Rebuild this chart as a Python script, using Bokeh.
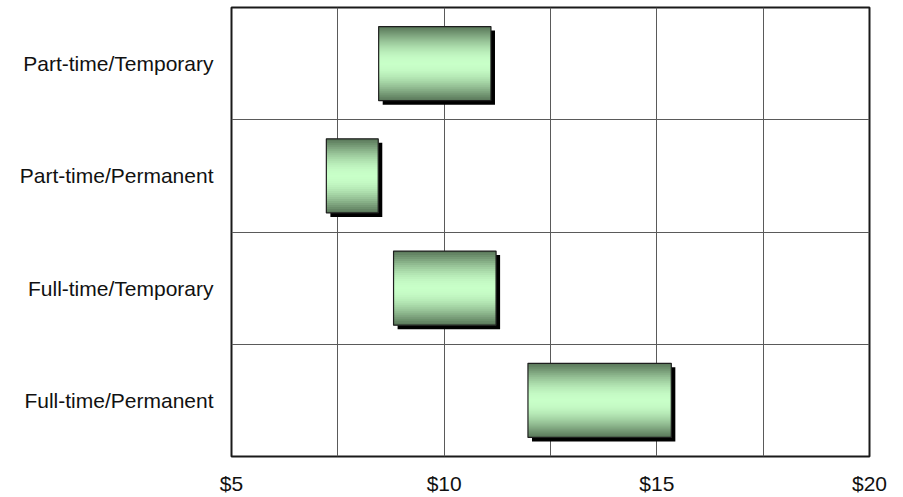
import numpy as np
from bokeh.plotting import figure
from bokeh.models import FixedTicker, ColumnDataSource
from bokeh.embed import file_html
from bokeh.resources import INLINE

# Hourly wage ranges by employment type (low / high end of each range)
categories = ["Full-time/Permanent", "Full-time/Temporary",
              "Part-time/Permanent", "Part-time/Temporary"]
wage_low = [11.97, 8.81, 7.23, 8.46]
wage_high = [15.34, 11.22, 8.45, 11.10]
x_ticks = [5, 10, 15, 20]
x_tick_labels = ["$5", "$10", "$15", "$20"]

BAR_H = 0.66          # bar thickness, in row units
N_STRIPES = 37        # slices used to shade each bar top-to-bottom
DARK = np.array([90, 120, 90])
LIGHT = np.array([200, 255, 200])

p = figure(width=903, height=497, output_backend="svg", toolbar_location=None,
           x_range=(5, 20), y_range=(0, 4),
           min_border_left=231, min_border_right=34,
           min_border_top=7, min_border_bottom=0)
p.background_fill_color = "white"
p.border_fill_color = "white"
p.outline_line_color = "#1a1a1a"
p.outline_line_width = 2

# grid: vertical lines every $2.50, horizontal lines between rows
p.xgrid.ticker = FixedTicker(ticks=[5, 7.5, 10, 12.5, 15, 17.5, 20])
p.ygrid.ticker = FixedTicker(ticks=[1, 2, 3])
for g in (p.xgrid, p.ygrid):
    g.grid_line_color = "#5a5a5a"
    g.grid_line_width = 1

# axes
p.xaxis.ticker = FixedTicker(ticks=x_ticks)
p.xaxis.major_label_overrides = {t: s for t, s in zip(x_ticks, x_tick_labels)}
centers = [i + 0.5 for i in range(len(categories))]
p.yaxis.ticker = FixedTicker(ticks=centers)
p.yaxis.major_label_overrides = {c: name for c, name in zip(centers, categories)}
for ax in (p.xaxis, p.yaxis):
    ax.axis_line_color = None
    ax.major_tick_line_color = None
    ax.minor_tick_line_color = None
    ax.major_tick_in = 0
    ax.major_tick_out = 0
    ax.minor_tick_in = 0
    ax.minor_tick_out = 0
    ax.major_label_text_font = "Liberation Sans"
    ax.major_label_text_font_size = "21px"
    ax.major_label_text_color = "#111111"
p.xaxis.major_label_standoff = 15
p.yaxis.major_label_standoff = 18

lo = np.array(wage_low)
hi = np.array(wage_high)
cy = np.array(centers)
top = cy + BAR_H / 2
bot = cy - BAR_H / 2

# drop shadow
dx, dy = 0.095, 0.036
p.quad(left=lo + dx, right=hi + dx, top=top - dy, bottom=bot - dy,
       fill_color="black", line_color=None)

# shaded fill: horizontal slices, dark at the edges, light through the middle.
# Each slice reaches down past its neighbour so no seams show between them.
t = (np.arange(N_STRIPES) + 0.5) / N_STRIPES
w = np.sin(np.pi * t) ** 1.1
cols = [(DARK + (LIGHT - DARK) * k).astype(int) for k in w]
hex_cols = ["#%02x%02x%02x" % tuple(c) for c in cols]
L, R, T, B, C = [], [], [], [], []
for i in range(len(categories)):
    edges = np.linspace(top[i], bot[i], N_STRIPES + 1)
    step = edges[0] - edges[1]
    for j in range(N_STRIPES):
        L.append(lo[i]); R.append(hi[i])
        T.append(edges[j])
        B.append(max(edges[j + 1] - step, bot[i]))
        C.append(hex_cols[j])
src = ColumnDataSource(dict(left=L, right=R, top=T, bottom=B, color=C))
p.quad(left="left", right="right", top="top", bottom="bottom", source=src,
       fill_color="color", line_color=None)

# bar outline
p.quad(left=lo, right=hi, top=top, bottom=bot,
       fill_color=None, line_color="#1e1e1e", line_width=1.2)

open("out.html", "w").write(file_html(p, INLINE))
